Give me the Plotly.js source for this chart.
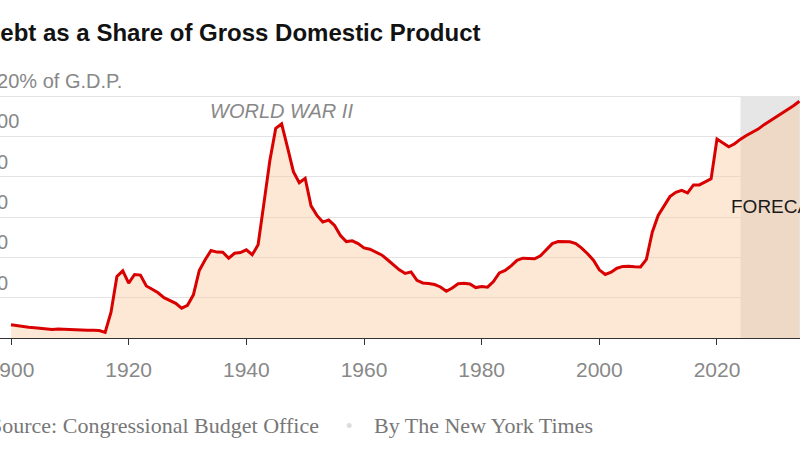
<!DOCTYPE html>
<html>
<head>
<meta charset="utf-8">
<script src="https://cdn.plot.ly/plotly-3.0.1.min.js"></script>
<style>
html,body{margin:0;padding:0;overflow:hidden;background:#fff;width:800px;height:450px;}
#chart{position:absolute;left:-40px;top:0;width:840px;height:450px;}
</style>
</head>
<body>
<div id="chart"></div>
<script>
// Debt held by the public, % of GDP
const firstYear = 1900;
const historicalShare = [
  6.6, 6.1, 5.7, 5.3, 5.1, 4.8, 4.4, 4.2, 4.5, 4.3,        // 1900-1909
  4.1, 4.0, 3.9, 3.8, 3.8, 3.7, 2.8, 12.8, 30.5, 33.3,     // 1910-1919
  27.2, 31.5, 31.2, 25.8, 24.2, 22.4, 20.0, 18.4, 17.2, 14.8, // 1920-1929
  16.2, 21.4, 33.5, 38.8, 43.4, 42.6, 42.5, 39.6, 42.0, 42.4, // 1930-1939
  43.7, 41.3, 46.2, 67.0, 88.0, 104.0, 106.2, 94.5, 82.5, 77.0, // 1940-1949
  79.2, 65.5, 60.8, 57.5, 58.5, 55.8, 50.8, 47.8, 48.2, 46.8, // 1950-1959
  44.7, 44.0, 42.7, 41.2, 38.8, 36.5, 33.8, 32.0, 32.8, 28.6, // 1960-1969
  27.3, 27.0, 26.5, 25.3, 23.2, 24.8, 26.9, 27.1, 26.8, 25.0, // 1970-1979
  25.5, 25.2, 28.0, 32.3, 33.5, 35.8, 38.5, 39.6, 39.5, 39.3, // 1980-1989
  40.8, 44.0, 46.8, 47.8, 47.9, 47.7, 46.8, 44.6, 41.8, 38.6, // 1990-1999
  33.8, 31.5, 32.6, 34.6, 35.5, 35.6, 35.3, 35.2, 39.0, 52.5, // 2000-2009
  60.8, 65.8, 70.1, 72.2, 73.2, 72.0, 75.9, 75.9, 77.2, 78.9, // 2010-2019
  98.7, 96.7, 94.8, 96.3                                    // 2020-2023
];
const forecastShare = [98.6, 100.4, 102.0, 103.6, 105.8, 107.6, 109.5, 111.3, 113.2, 115.2, 117.4]; // 2024-2034
const forecastStart = 2024;

const shareValues = historicalShare.concat(forecastShare);
const years = shareValues.map((_, i) => firstYear + i);

const xTickYears = [1900, 1920, 1940, 1960, 1980, 2000, 2020];
const yTickValues = [20, 40, 60, 80, 100, 120];
const yTickLabels = ['20', '40', '60', '80', '100', '120% of G.D.P.'];

const titleText = 'Debt as a Share of Gross Domestic Product';
const sourceText = 'Source: Congressional Budget Office';
const creditText = 'By The New York Times';

const trace = {
  x: years,
  y: shareValues,
  type: 'scatter',
  mode: 'lines',
  fill: 'tozeroy',
  fillcolor: 'rgba(250,200,158,0.42)',
  line: {color: '#d90000', width: 3},
  hoverinfo: 'skip'
};

const layout = {
  width: 840,
  height: 450,
  margin: {l: 23, r: 0, t: 95, b: 112},
  paper_bgcolor: '#fff',
  plot_bgcolor: 'rgba(0,0,0,0)',
  showlegend: false,
  title: {
    text: '<b>' + titleText + '</b>',
    font: {family: 'Liberation Sans, Arial, sans-serif', size: 24, color: '#121212'},
    xref: 'container', x: 23/840, xanchor: 'left',
    yref: 'container', y: 1 - 33/450, yanchor: 'middle'
  },
  xaxis: {
    range: [1895.24, 2034.11],
    tickvals: xTickYears,
    ticks: 'outside', ticklen: 6, tickcolor: '#333', tickwidth: 1,
    ticklabelstandoff: 7,
    showline: true, linecolor: '#333', linewidth: 1,
    showgrid: false, zeroline: false,
    tickfont: {family: 'Liberation Sans, Arial, sans-serif', size: 21, color: '#888'},
    fixedrange: true
  },
  yaxis: {
    range: [0, 120.5],
    tickvals: yTickValues,
    ticktext: yTickLabels,
    ticks: '',
    ticklabelposition: 'inside',
    ticklabeloverflow: 'allow',
    ticklabelshift: -15,
    ticklabelstandoff: 0,
    showgrid: true, gridcolor: '#e3e3e3', gridwidth: 1,
    zeroline: false, showline: false,
    tickfont: {family: 'Liberation Sans, Arial, sans-serif', size: 20, color: '#888'},
    fixedrange: true
  },
  shapes: [{
    type: 'rect', layer: 'between',
    xref: 'x', x0: forecastStart, x1: 2034.11,
    yref: 'y', y0: 0, y1: 120,
    fillcolor: '#e6e6e6', line: {width: 0}
  }],
  annotations: [
    {x: 1946, y: 112.5, xref: 'x', yref: 'y', text: '<i>WORLD WAR II</i>', showarrow: false,
     xanchor: 'center', yanchor: 'middle',
     font: {family: 'Liberation Sans, Arial, sans-serif', size: 20, color: '#888'}},
    {x: 2022.05, y: 65, xref: 'x', yref: 'y', text: 'FORECAST', showarrow: false,
     xanchor: 'left', yanchor: 'middle',
     font: {family: 'Liberation Sans, Arial, sans-serif', size: 19, color: '#1a1a1a'}},
    {x: 5/817, y: -0.362, xref: 'paper', yref: 'paper', text: sourceText, showarrow: false,
     xanchor: 'left', yanchor: 'middle',
     font: {family: 'Liberation Serif, Times New Roman, serif', size: 22, color: '#777'}},
    {x: 366/817, y: -0.362, xref: 'paper', yref: 'paper', text: '•', showarrow: false,
     xanchor: 'center', yanchor: 'middle',
     font: {family: 'Liberation Sans, Arial, sans-serif', size: 18, color: '#ddd'}},
    {x: 389/817, y: -0.362, xref: 'paper', yref: 'paper', text: creditText, showarrow: false,
     xanchor: 'left', yanchor: 'middle',
     font: {family: 'Liberation Serif, Times New Roman, serif', size: 22, color: '#777'}}
  ]
};

Plotly.newPlot('chart', [trace], layout, {staticPlot: true, displayModeBar: false});
</script>
</body>
</html>
